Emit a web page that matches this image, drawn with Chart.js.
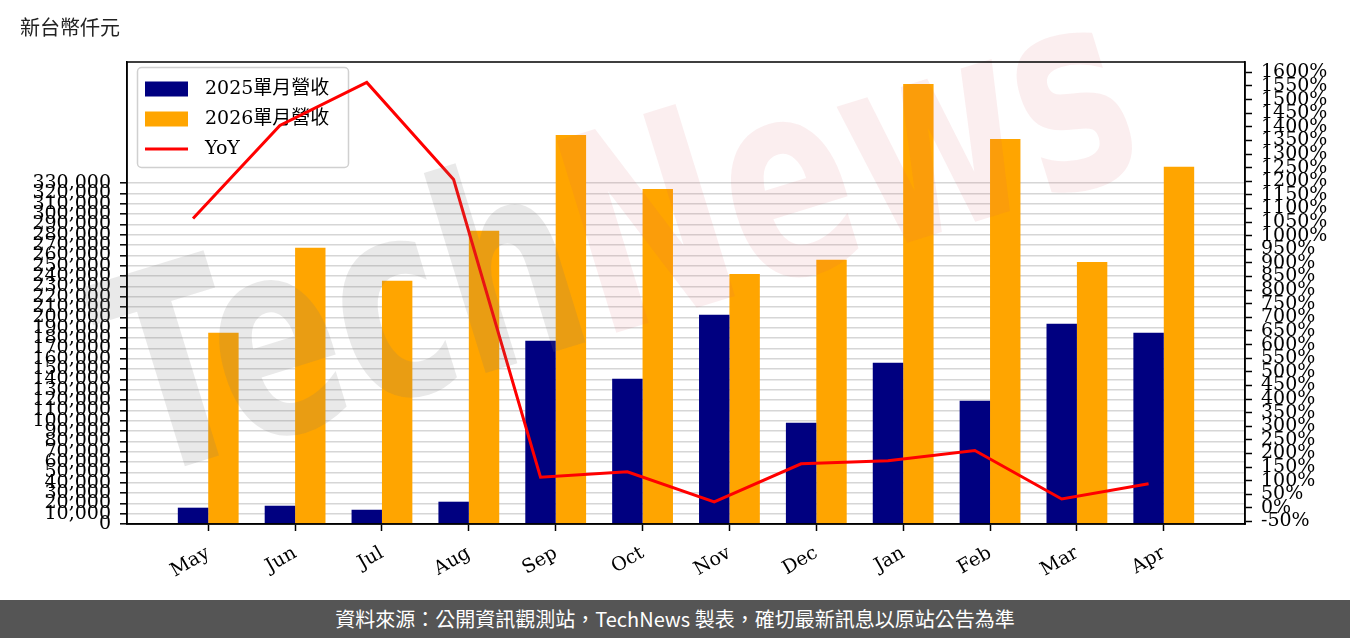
<!DOCTYPE html>
<html>
<head>
<meta charset="utf-8">
<script src="https://cdn.jsdelivr.net/npm/chart.js@4.4.1/dist/chart.umd.min.js"></script>
<style>
body{margin:0;width:1350px;height:638px;background:#fff;position:relative;overflow:hidden;font-family:"Noto Sans CJK TC",sans-serif}
#wrap{position:absolute;left:0;top:0;width:1350px;height:600px}
#unit{position:absolute;left:20px;top:13px;font-size:20px;line-height:28px;color:#222}
#foot{position:absolute;left:0;top:600px;width:1350px;height:38px;background:#555;color:#fff;font-size:20px;line-height:38px;text-align:center}
</style>
</head>
<body>
<div id="wrap"><canvas id="c" width="1350" height="600"></canvas></div>
<div id="unit">新台幣仟元</div>
<div id="foot">資料來源：公開資訊觀測站，TechNews 製表，確切最新訊息以原站公告為準</div>
<script>
// data
const months = ['May','Jun','Jul','Aug','Sep','Oct','Nov','Dec','Jan','Feb','Mar','Apr'];
const rev2025 = [15800, 17700, 13800, 21600, 177500, 140600, 202600, 98000, 156100, 119300, 193900, 185200];
const rev2026 = [185200, 267400, 235500, 283900, 376700, 324500, 242200, 255800, 426100, 372900, 253800, 346000];
const yoy = [1063, 1405, 1563, 1206, 113, 133, 22, 162, 173, 211, 33, 89];

const revTicks = [];
for (let v = 0; v <= 330000; v += 10000) revTicks.push(v);
const yoyTicks = [];
for (let v = -50; v <= 1600; v += 50) yoyTicks.push(v);

const serif = "'DejaVu Serif', 'Noto Sans CJK TC', serif";
Chart.defaults.font.family = serif;
Chart.defaults.font.size = 19;
Chart.defaults.color = '#000';

// axes box on all four sides
const frame = {
    id: 'frame',
    afterDraw(chart){
        const a = chart.chartArea, c = chart.ctx;
        c.save();
        c.strokeStyle = '#000';
        c.lineWidth = 1.5;
        c.strokeRect(a.left, a.top, a.right - a.left, a.bottom - a.top);
        c.restore();
    }
};

// legend inside the plot, drawn under the line
const legendBox = {
    id: 'legendBox',
    beforeDatasetsDraw(chart){
        const a = chart.chartArea, c = chart.ctx;
        const x0 = a.left + 10.5, y0 = a.top + 5.5, w = 211, h = 100;
        c.save();
        c.beginPath();
        c.roundRect(x0, y0, w, h, 4);
        c.fillStyle = 'rgba(255,255,255,0.8)';
        c.fill();
        c.strokeStyle = '#d0d0d0';
        c.lineWidth = 1.5;
        c.stroke();
        c.font = '19px ' + serif;
        c.textBaseline = 'middle';
        chart.data.datasets.forEach((d, i) => {
            const y = a.top + 27 + i * 30;
            if (d.type === 'line') {
                c.strokeStyle = d.borderColor;
                c.lineWidth = d.borderWidth;
                c.beginPath();
                c.moveTo(a.left + 18, y);
                c.lineTo(a.left + 61, y);
                c.stroke();
            } else {
                c.fillStyle = d.backgroundColor;
                c.fillRect(a.left + 18, y - 7.5, 43, 15);
            }
            c.fillStyle = '#000';
            c.fillText(d.label, a.left + 78, y);
        });
        c.restore();
    }
};

// faint TechNews mark over the plot
const watermark = {
    id: 'watermark',
    afterDatasetsDraw(chart){
        const c = chart.ctx;
        c.save();
        c.translate(140, 480);
        c.rotate(-0.3);
        c.scale(1, 1.45);
        c.font = 'bold 190px "DejaVu Sans"';
        c.fillStyle = 'rgba(120,120,120,0.16)';
        c.fillText('Tech', 0, 0);
        const w = c.measureText('Tech').width;
        c.fillStyle = 'rgba(215,90,100,0.1)';
        c.fillText('News', w, 0);
        c.restore();
    }
};

const ctx = document.getElementById('c').getContext('2d');
const revChart = new Chart(ctx, {
    type: 'bar',
    data: {
        datasets: [{
            label: '2025單月營收',
            data: rev2025.map((v, i) => ({x: i, y: v})),
            backgroundColor: '#000080',
            yAxisID: 'y',
            order: 2
        }, {
            label: '2026單月營收',
            data: rev2026.map((v, i) => ({x: i, y: v})),
            backgroundColor: '#ffa500',
            yAxisID: 'y',
            order: 2
        }, {
            type: 'line',
            label: 'YoY',
            // the line sits on the 2025 bar centres
            data: yoy.map((v, i) => ({x: i - 0.175, y: v})),
            borderColor: '#ff0000',
            borderWidth: 3,
            pointRadius: 0,
            tension: 0,
            yAxisID: 'y1',
            order: 1
        }]
    },
    options: {
        responsive: false,
        animation: false,
        layout: {padding: {top: 62}},
        datasets: {bar: {categoryPercentage: 0.7, barPercentage: 1}},
        plugins: {legend: {display: false}, tooltip: {enabled: false}},
        scales: {
            x: {
                type: 'linear',
                min: -0.935,
                max: 11.935,
                offset: false,
                grid: {offset: false, drawOnChartArea: false, tickColor: '#000', tickLength: 7, tickWidth: 1.5},
                border: {color: '#000', width: 1.5},
                afterBuildTicks: s => { s.ticks = months.map((m, i) => ({value: i})); },
                ticks: {autoSkip: false, minRotation: 30, maxRotation: 30, padding: 11,
                    callback: v => months[v]},
                afterFit: s => { s.height = 76; }
            },
            y: {
                position: 'left',
                min: 0,
                max: 447400,
                grid: {color: '#d6d6d6', lineWidth: 1.6, tickColor: '#000', tickLength: 7, tickWidth: 1.5},
                border: {color: '#000', width: 1.5},
                afterBuildTicks: s => { s.ticks = revTicks.map(v => ({value: v})); },
                ticks: {autoSkip: false, padding: 9, callback: v => v.toLocaleString('en-US')},
                afterFit: s => { s.width = 127; }
            },
            y1: {
                position: 'right',
                min: -59,
                max: 1638,
                grid: {drawOnChartArea: false, tickColor: '#000', tickLength: 7, tickWidth: 1.5},
                border: {color: '#000', width: 1.5},
                afterBuildTicks: s => { s.ticks = yoyTicks.map(v => ({value: v})); },
                ticks: {autoSkip: false, padding: 9, callback: v => v + '%'},
                afterFit: s => { s.width = 105; }
            }
        }
    },
    plugins: [legendBox, watermark, frame]
});
</script>
</body>
</html>
